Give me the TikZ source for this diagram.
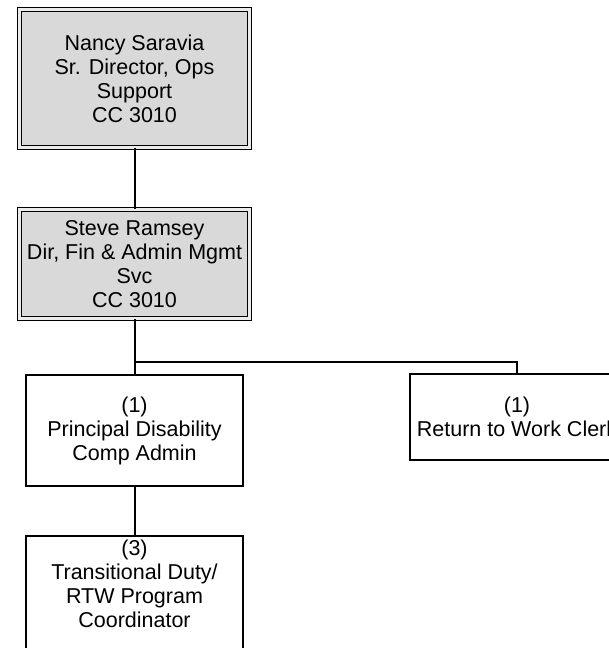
\documentclass[tikz,border=0pt]{standalone}
\usepackage{fontspec}
\setmainfont{Liberation Sans}
\begin{document}
\begin{tikzpicture}[
  x=1pt, y=-1pt,
  mgrbox/.style={rectangle, draw, line width=1.4pt, double=black!8, double distance=2.2pt,
    fill=black!15, minimum width=230, inner sep=0pt, align=center,
    font=\fontsize{21.5}{24}\selectfont},
  posbox/.style={rectangle, draw, line width=1.8pt, fill=white, inner sep=0pt,
    align=center, font=\fontsize{21.5}{24}\selectfont},
  link/.style={line width=2pt}
]
  \useasboundingbox (0,0) rectangle (609,648);

  \node[mgrbox, minimum height=138] (nancy) at (134.5,78.5)
    {Nancy Saravia\\Sr. Director, Ops\\Support\\CC 3010};
  \node[mgrbox, minimum height=109] (steve) at (134.5,264)
    {Steve Ramsey\\Dir, Fin \& Admin Mgmt\\Svc\\CC 3010};

  \node[posbox, minimum width=217, minimum height=111] (pdca) at (134.5,430.5)
    {(1)\\Principal Disability\\Comp Admin};
  \node[posbox, minimum width=214, minimum height=86] (rtw) at (517,417)
    {(1)\\Return to Work Clerk};
  \node[posbox, minimum width=217, minimum height=130, anchor=north] (tdc) at (134.5,535) {};
  \node[anchor=north, align=center, font=\fontsize{21.5}{24}\selectfont, inner sep=0pt]
    (tdctext) at (134.5,540) {(3)\\Transitional Duty/\\RTW Program\\Coordinator};

  \coordinate (jn) at (134.5,362);
  \draw[link] (nancy.south) -- (steve.north);
  \draw[link] (steve.south) -- (jn) -- (pdca.north);
  \draw[link] (jn) -| (rtw.north);
  \draw[link] (pdca.south) -- (tdc.north);
\end{tikzpicture}
\end{document}
